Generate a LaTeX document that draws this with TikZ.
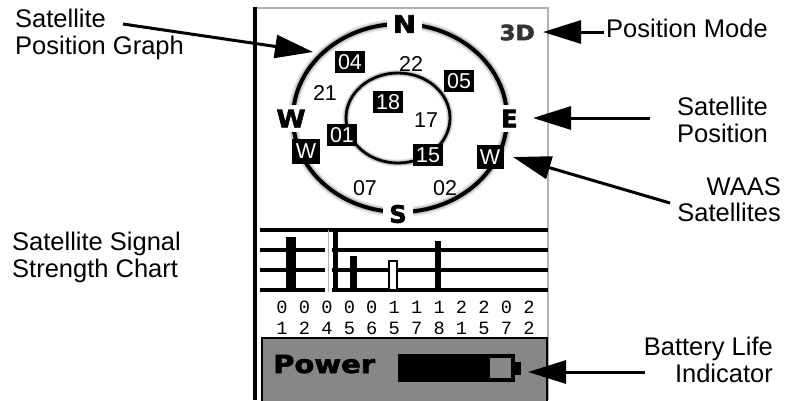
\documentclass[tikz,border=0pt]{standalone}
\usepackage{fontspec}
\usepackage{graphicx}
\setmainfont{Liberation Sans}
\newfontfamily\heavyfont[BoldFeatures={FakeBold=2.2}]{DejaVu Sans}
\newfontfamily\chartmono{Liberation Mono}
\usetikzlibrary{arrows.meta}
\begin{document}
\begin{tikzpicture}[x=1pt,y=-1pt,
  lbl/.style={font=\fontsize{25.5}{26.5}\selectfont, inner sep=0pt},
  callout/.style={line width=3pt, -{Triangle[length=38pt,width=23pt]}},
  satbox/.style={fill=black, text=white, font=\fontsize{21.5}{21.5}\selectfont, minimum width=30pt, minimum height=22pt, inner sep=0pt},
  satnum/.style={font=\fontsize{21.5}{21.5}\selectfont, inner sep=0pt},
  compass/.style={font=\heavyfont\bfseries\fontsize{24}{24}\selectfont, fill=white, inner xsep=6pt, inner ysep=5pt},
  gridline/.style={line width=4pt},
  digitrow/.style={font=\chartmono\fontsize{18.7}{18.7}\selectfont, inner sep=0pt, anchor=base},
]
\useasboundingbox (0,0) rectangle (785,400);
% device frame
\draw[gray!60, line width=2.5pt] (254,8) -- (548,8) -- (548,400);
\draw[line width=4pt] (255,6.5) -- (255,400);
% position graph
\foreach \w/\c in {10/gray!18, 7/gray!45, 4/black}
  \draw[line width=\w pt, \c] (400,118) ellipse [x radius=107, y radius=94];
\foreach \w/\c in {7/gray!18, 5/gray!45, 2.8/black}
  \draw[line width=\w pt, \c] (398,118) ellipse [x radius=52, y radius=45];
\node[compass] (cn) at (404.5,24) {\scalebox{1.15}[1]{N}};
\node[compass] (cw) at (291,118.5) {\scalebox{1.1}[1]{W}};
\node[compass] (ce) at (509.5,118.5) {E};
\node[compass] (cs) at (398,214) {S};
\node[font=\heavyfont\bfseries\fontsize{21}{21}\selectfont, text=black!80, anchor=east, inner sep=0pt] (mode) at (535,32.5) {\scalebox{1.1}[1]{3D}};
\node[satbox] (s04) at (350,62) {04};
\node[satnum] (s22) at (411,64) {22};
\node[satbox] (s05) at (459,81) {05};
\node[satnum] (s21) at (325,93) {21};
\node[satbox] (s18) at (388,102) {18};
\node[satnum] (s17) at (426,120) {17};
\node[satbox] (s01) at (342,135) {01};
\node[satbox] (s15) at (428,155) {15};
\node[satbox, minimum width=28pt, minimum height=25pt] (w1) at (306,151) {W};
\node[satbox, minimum width=27pt, minimum height=24pt] (w2) at (490,157) {W};
\node[satnum] (s07) at (365,188) {07};
\node[satnum] (s02) at (445,188) {02};
% signal strength chart
\draw[gridline] (260,230) -- (548,230);
\foreach \y in {250,270,290} {
  \draw[gridline] (260,\y) -- (325,\y);
  \draw[gridline] (332,\y) -- (548,\y);
}
\draw[gray!60, line width=1pt] (328,230) -- (328,292);
\fill (286,237) rectangle (296,290);
\fill (333,230) rectangle (338,290);
\fill (350,256) rectangle (357,290);
\draw[line width=2.5pt, fill=white] (389,261) rectangle (397,290);
\fill (435,241) rectangle (441,290);
\node[digitrow] (row1) at (405.5,313.5) {0 0 0 0 0 1 1 1 2 2 0 2};
\node[digitrow] (row2) at (405.5,334) {1 2 4 5 6 5 7 8 1 5 7 2};
% power panel
\draw[line width=2.5pt, fill=black!47] (262,338) rectangle (547,404);
\node[font=\heavyfont\bfseries\fontsize{25}{25}\selectfont, anchor=base west, inner sep=0pt] (power) at (273,373) {\scalebox{1.16}[1]{Power}};
\node[fill=black, minimum width=117pt, minimum height=28pt, inner sep=0pt] (batt) at (456.5,368) {};
\fill[black!47] (490,358) rectangle (511,378);
\fill (515,362) rectangle (521,375);
% labels
\node[lbl, anchor=north west, align=left] (spg) at (15,9) {Satellite\\Position Graph};
\node[lbl, anchor=north west, align=left] (sssc) at (12,232) {Satellite Signal\\Strength Chart};
\node[lbl, anchor=north east] (pm) at (768,19) {Position Mode};
\node[lbl, anchor=north east, align=right] (sp) at (768,97) {Satellite\\Position};
\node[lbl, anchor=north east, align=right] (waas) at (781,177) {WAAS\\Satellites};
\node[lbl, anchor=north east, align=right] (bli) at (773,337) {Battery Life\\Indicator};
% callout arrows
\coordinate (a1s) at (123,24);  \coordinate (a1t) at (313,52);
\coordinate (a2s) at (604,32);  \coordinate (a2t) at (543,32);
\coordinate (a3s) at (650,118); \coordinate (a3t) at (533,118);
\coordinate (a4s) at (670,203); \coordinate (a4t) at (513,157);
\coordinate (a5s) at (645,372); \coordinate (a5t) at (528,372);
\draw[callout] (a1s) -- (a1t);
\draw[callout] (a2s) -- (a2t);
\draw[callout] (a3s) -- (a3t);
\draw[callout] (a4s) -- (a4t);
\draw[callout] (a5s) -- (a5t);
\end{tikzpicture}
\end{document}
